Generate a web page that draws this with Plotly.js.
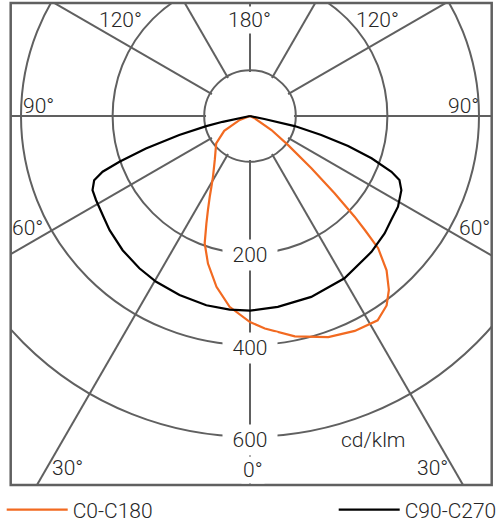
<!DOCTYPE html>
<html>
<head>
<meta charset="utf-8">
<script src="https://cdn.plot.ly/plotly-3.0.1.min.js"></script>
<style>
  html, body { margin: 0; padding: 0; overflow: hidden; background: #fff; width: 499px; height: 526px; }
  #chart { position: absolute; }
</style>
</head>
<body>
<div id="chart"></div>
<script>
// ---- data (cd/klm, gamma angle in degrees; 0 = straight down, + = right side) ----
const SERIES_NAMES = ['C0-C180', 'C90-C270'];

const C0_C180_ANGLE = [-180, -69, -60, -51, -39, -31.4, -28.6, -26.5, -24.1, -22.1, -19.6, -15.9, -11.1, -6.1, 0, 4, 11.5, 19.5, 26, 32, 35.8, 38.6, 41.5, 44.1, 45.2, 46.1, 47.6, 49.6, 52.7, 56.8, 63.9, 180];
const C0_C180_VALUE = [-100, -76, -35, -5, 22, 55, 76, 97, 125, 153, 195, 235, 280, 319, 350, 365, 391, 412, 422, 426, 410, 386, 350, 302, 254, 217, 150, 76, 4, -44, -89, -100];

const C90_C270_ANGLE = [-180, -80, -78, -77, -75, -72.7, -70.7, -69.3, -67.6, -64.8, -61.4, -54.9, -50.9, -43.5, -36, -29.5, -21.5, -13, -6, 0, 8.3, 18.7, 30.2, 41.8, 48.9, 53.6, 58.5, 63.9, 66.8, 68.5, 70.8, 73, 75.1, 77.3, 78, 80, 180];
const C90_C270_VALUE = [-100, -100, -39, -2, 60, 138, 202, 244, 268, 280, 283, 289, 295, 304, 311, 316, 320, 324, 325, 325, 321, 317, 310, 298, 290, 283, 279, 268, 255, 232, 181, 124, 61, 0, -68, -100, -100];

const RADIAL_GRID = [0, 200, 400, 600];
const RADIAL_LABELS = [200, 400, 600];
const ANGLE_LABELS = ['180°', '120°', '120°', '90°', '90°', '60°', '60°', '30°', '30°', '0°'];
const UNIT_LABEL = 'cd/klm';

// ---- geometry ----
const CX = 250.3, CY = 116;          // pole position on page
const K = 0.458;                      // px per cd/klm
const R_OUT = 470;                    // polar radius in px (clipped by frame)
const W = 2 * R_OUT, H = 2 * R_OUT;
const LEFT = CX - R_OUT, TOP = CY - R_OUT;
const R_MIN = -100;                   // value at the pole
const R_MAX = R_OUT / K + R_MIN;
const GRID_MIN = -4;                  // inner edge of the spoke grid (just inside the 0 circle)
const FRAME = {x0: 11, y0: 3, x1: 492, y1: 485};

const el = document.getElementById('chart');
el.style.left = LEFT + 'px';
el.style.top = TOP + 'px';
el.style.width = W + 'px';
el.style.height = H + 'px';

const px = x => (x - LEFT) / W;
const py = y => 1 - (y - TOP) / H;

const GRID = '#606060';
const TXT = '#262626';
const FONT = {family: 'Roboto, "Liberation Sans", sans-serif', weight: 300, size: 21, color: TXT};

const traces = [
  {type: 'scatterpolar', subplot: 'polar', r: [], theta: [], showlegend: false, hoverinfo: 'skip'},
  {type: 'scatterpolar', subplot: 'polar2', name: SERIES_NAMES[0], r: C0_C180_VALUE, theta: C0_C180_ANGLE,
   mode: 'lines', line: {color: '#F26A21', width: 2.2}, hoverinfo: 'skip'},
  {type: 'scatterpolar', subplot: 'polar2', name: SERIES_NAMES[1], r: C90_C270_VALUE, theta: C90_C270_ANGLE,
   mode: 'lines', line: {color: '#000000', width: 2.2}, hoverinfo: 'skip'}
];

const angAxis = (grid) => ({
  rotation: -90, direction: 'counterclockwise', thetaunit: 'degrees',
  tickmode: 'linear', tick0: 0, dtick: 30,
  showgrid: grid, gridcolor: GRID, gridwidth: 2,
  showticklabels: false, ticks: '', showline: false
});

const annotations = [];
RADIAL_LABELS.forEach(v => {
  annotations.push({
    text: String(v), x: px(CX), y: py(CY + (v - R_MIN) * K + 1.5 + (v - 200) / 200), xref: 'paper', yref: 'paper',
    xanchor: 'center', yanchor: 'middle', showarrow: false, bgcolor: '#ffffff',
    width: 54, height: 30, borderpad: 0, font: FONT
  });
});
const ANGLE_POS = [[249.5, 20], [121, 20], [378, 20], [39, 106], [464, 106], [28, 227.5], [475, 227.5], [68, 467.5], [433, 467.5], [253, 470]];
ANGLE_LABELS.forEach((t, i) => {
  const masked = (i === 0 || i === 9);
  annotations.push({
    text: t, x: px(ANGLE_POS[i][0]), y: py(ANGLE_POS[i][1]), xref: 'paper', yref: 'paper',
    xanchor: 'center', yanchor: 'middle', showarrow: false,
    bgcolor: masked ? '#ffffff' : 'rgba(0,0,0,0)', borderpad: 1, font: FONT
  });
});
annotations.push({text: UNIT_LABEL, x: px(373), y: py(440), xref: 'paper', yref: 'paper',
  xanchor: 'center', yanchor: 'middle', showarrow: false, font: FONT});

const shapes = [
  // white masks outside the frame
  {type: 'rect', xref: 'paper', yref: 'paper', x0: 0, x1: px(FRAME.x0), y0: 0, y1: 1, fillcolor: '#fff', line: {width: 0}, layer: 'above'},
  {type: 'rect', xref: 'paper', yref: 'paper', x0: px(FRAME.x1), x1: 1, y0: 0, y1: 1, fillcolor: '#fff', line: {width: 0}, layer: 'above'},
  {type: 'rect', xref: 'paper', yref: 'paper', x0: 0, x1: 1, y0: py(FRAME.y0), y1: 1, fillcolor: '#fff', line: {width: 0}, layer: 'above'},
  {type: 'rect', xref: 'paper', yref: 'paper', x0: 0, x1: 1, y0: 0, y1: py(FRAME.y1), fillcolor: '#fff', line: {width: 0}, layer: 'above'},
  // frame
  {type: 'rect', xref: 'paper', yref: 'paper', x0: px(FRAME.x0), x1: px(FRAME.x1), y0: py(FRAME.y1), y1: py(FRAME.y0),
   line: {color: GRID, width: 2.5}, fillcolor: 'rgba(0,0,0,0)', layer: 'above'}
];

// spokes start a hair inside the 0 circle (Plotly skips a grid circle within 1px of the range start)
const holePx = (0 - R_MIN) * K + GRID_MIN * K;

const layout = {
  width: W, height: H,
  margin: {l: 0, r: 0, t: 0, b: 0, autoexpand: false},
  paper_bgcolor: '#fff',
  font: FONT,
  showlegend: true,
  legend: {orientation: 'h', x: px(2), y: py(510), xanchor: 'left', yanchor: 'middle',
           font: FONT, itemwidth: 61, entrywidth: 256, bgcolor: 'rgba(0,0,0,0)', traceorder: 'normal'},
  polar: {
    domain: {x: [0, 1], y: [0, 1]}, bgcolor: '#fff', hole: holePx / R_OUT,
    radialaxis: {range: [GRID_MIN, R_MAX], tickmode: 'array', tickvals: RADIAL_GRID, showticklabels: false, ticks: '',
                 showline: false, showgrid: true, gridcolor: GRID, gridwidth: 2},
    angularaxis: angAxis(true)
  },
  polar2: {
    domain: {x: [0, 1], y: [0, 1]}, bgcolor: 'rgba(0,0,0,0)',
    radialaxis: {range: [R_MIN, R_MAX], showticklabels: false, ticks: '', showline: false, showgrid: false},
    angularaxis: angAxis(false)
  },
  shapes: shapes,
  annotations: annotations
};

Plotly.newPlot(el, traces, layout, {staticPlot: true, displayModeBar: false});
</script>
</body>
</html>
